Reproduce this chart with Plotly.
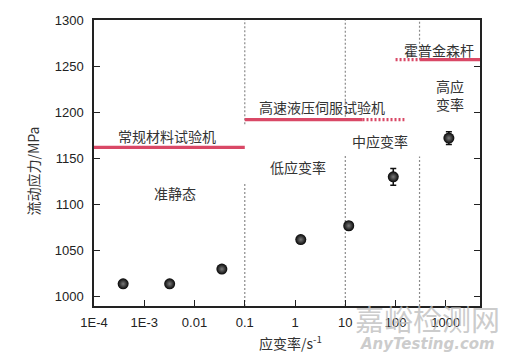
import plotly.graph_objects as go
import math

# ---- data ----
strain_rate = [3.8e-4, 3.2e-3, 0.035, 1.3, 11.7, 90, 1150]
flow_stress = [1014, 1014, 1030, 1062, 1077, 1130, 1172]
stress_err = [0, 0, 0, 0, 4, 9, 7]

x_tickvals = [1e-4, 1e-3, 1e-2, 1e-1, 1, 10, 100, 1000]
x_ticktext = ["1E-4", "1E-3", "0.01", "0.1", "1", "10", "100", "1000"]
y_tickvals = [1000, 1050, 1100, 1150, 1200, 1250, 1300]

# regime boundaries (strain rate) with the gap in the dotted line (stress range)
boundary_rates = [0.1, 10, 300]
boundary_gap_top = [1187, 1195, 1257]
boundary_gap_bottom = [1123, 1154, 1152]

# testing machines: name, stress level, solid range, dotted range
machine_names = ["常规材料试验机", "高速液压伺服试验机", "霍普金森杆"]
machine_stress = [1162, 1192, 1257]
machine_solid = [(1e-4, 0.1), (0.1, 22), (300, 4800)]
machine_dotted = [None, (22, 150), (100, 300)]
machine_label_x = [0.0028, 3.4, 720]
machine_label_y = [1174, 1206, 1267.5]

regime_names = ["准静态", "低应变率", "中应变率", "高应<br>变率"]
regime_label_x = [0.0041, 1.15, 49, 1200]
regime_label_y = [1113, 1141, 1169, 1219]

X_RANGE = [-4, 3.68]
Y_RANGE = [990, 1300]

CJK = "Noto Sans CJK SC"
RED = "#d94866"

fig = go.Figure()

# boundary dotted lines (two segments each)
for xr, gt, gb in zip(boundary_rates, boundary_gap_top, boundary_gap_bottom):
    for y0, y1 in [(gt, Y_RANGE[1]), (Y_RANGE[0], gb)]:
        fig.add_trace(go.Scatter(x=[xr, xr], y=[y0, y1], mode="lines",
                                 line=dict(color="#8a8a8a", width=1.2, dash="2px,2px"),
                                 hoverinfo="skip", showlegend=False))

# machine lines
for s, solid, dotted in zip(machine_stress, machine_solid, machine_dotted):
    fig.add_trace(go.Scatter(x=list(solid), y=[s, s], mode="lines",
                             line=dict(color=RED, width=3.2),
                             hoverinfo="skip", showlegend=False))
    if dotted:
        fig.add_trace(go.Scatter(x=list(dotted), y=[s, s], mode="lines",
                                 line=dict(color=RED, width=3.2, dash="2px,2px"),
                                 hoverinfo="skip", showlegend=False))

# data points
fig.add_trace(go.Scatter(
    x=strain_rate, y=flow_stress, mode="markers",
    marker=dict(size=11, color="#050505",
                gradient=dict(type="radial", color="#7a7a7a"),
                line=dict(width=0)),
    error_y=dict(type="data", array=stress_err, visible=True,
                 color="#111", thickness=1.5, width=3),
    showlegend=False))

annotations = []
for name, x, y in zip(machine_names, machine_label_x, machine_label_y):
    annotations.append(dict(x=math.log10(x), y=y, xref="x", yref="y", text=name,
                            showarrow=False, xanchor="center", yanchor="middle",
                            font=dict(family=CJK, size=14, color="#333")))
for name, x, y in zip(regime_names, regime_label_x, regime_label_y):
    annotations.append(dict(x=math.log10(x), y=y, xref="x", yref="y", text=name,
                            showarrow=False, xanchor="center", yanchor="middle",
                            font=dict(family=CJK, size=14, color="#333")))

# axis titles
annotations.append(dict(x=-0.158, y=0.47, xref="paper", yref="paper", text="流动应力/MPa",
                        textangle=-90, showarrow=False, xanchor="center", yanchor="middle",
                        font=dict(family=CJK, size=14, color="#333")))
annotations.append(dict(x=0.508, y=-0.129, xref="paper", yref="paper", text="应变率/s<sup>-1</sup>",
                        showarrow=False, xanchor="center", yanchor="middle",
                        font=dict(family=CJK, size=14, color="#333")))
# watermark
annotations.append(dict(x=0.865, y=-0.042, xref="paper", yref="paper", text="嘉峪检测网",
                        showarrow=False, xanchor="center", yanchor="middle",
                        font=dict(family=CJK, size=29, color="rgba(190,190,190,0.8)")))
annotations.append(dict(x=0.865, y=-0.132, xref="paper", yref="paper", text="AnyTesting.com",
                        showarrow=False, xanchor="center", yanchor="middle",
                        font=dict(family="DejaVu Sans", size=15, color="rgba(190,190,190,0.8)",
                                  style="italic", weight="bold")))

# the page body has an 8px default margin, so the figure is offset by 8px
fig.update_layout(
    width=501, height=352,
    margin=dict(l=86, r=29, t=12, b=54, pad=0),
    paper_bgcolor="white", plot_bgcolor="white",
    annotations=annotations,
    font=dict(family="Liberation Sans, Arial", size=13, color="#222"),
)
fig.update_xaxes(type="log", range=X_RANGE, tickvals=x_tickvals, ticktext=x_ticktext,
                 ticks="inside", ticklen=6, tickcolor="#222", tickwidth=1.2,
                 showline=True, linecolor="#222", linewidth=1.5, mirror=True,
                 showgrid=False, zeroline=False, ticklabelstandoff=4, automargin=False)
fig.update_yaxes(range=Y_RANGE, tickvals=y_tickvals,
                 ticks="inside", ticklen=6, tickcolor="#222", tickwidth=1.2,
                 showline=True, linecolor="#222", linewidth=1.5, mirror="ticks",
                 showgrid=False, zeroline=False, ticklabelstandoff=6, automargin=False)

fig.write_html("out.html")
